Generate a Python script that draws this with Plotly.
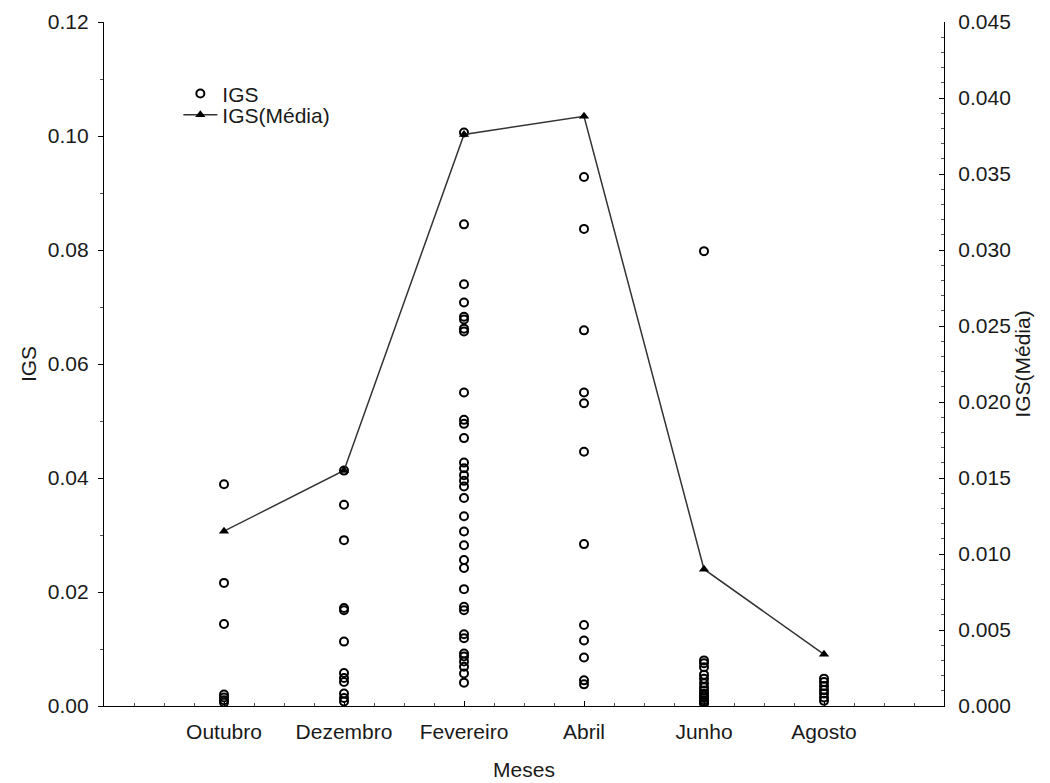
import plotly.graph_objects as go

meses = ["Outubro", "Dezembro", "Fevereiro", "Abril", "Junho", "Agosto"]

igs_outubro = [0.0389, 0.0216, 0.0144, 0.0020, 0.0015, 0.0010, 0.0006]
igs_dezembro = [0.0413, 0.0353, 0.0291, 0.0172, 0.0168, 0.0113, 0.0058, 0.0049,
                0.0042, 0.0022, 0.0014, 0.0008]
igs_fevereiro = [0.1006, 0.0845, 0.0740, 0.0708, 0.0683, 0.0678, 0.0662, 0.0657,
                 0.0550, 0.0502, 0.0495, 0.0470, 0.0427, 0.0417, 0.0405, 0.0395,
                 0.0385, 0.0365, 0.0333, 0.0306, 0.0282, 0.0256, 0.0242, 0.0205,
                 0.0174, 0.0168, 0.0126, 0.0119, 0.0092, 0.0087, 0.0078, 0.0069,
                 0.0057, 0.0041]
igs_abril = [0.0928, 0.0837, 0.0659, 0.0550, 0.0531, 0.0446, 0.0284, 0.0142,
             0.0115, 0.0085, 0.0045, 0.0038]
igs_junho = [0.0798, 0.0080, 0.0075, 0.0068, 0.0055, 0.0048, 0.0040, 0.0033,
             0.0027, 0.0022, 0.0018, 0.0014, 0.0010, 0.0007, 0.0004]
igs_agosto = [0.0048, 0.0042, 0.0035, 0.0028, 0.0022, 0.0015, 0.0009]

igs_media = [0.0115, 0.0155, 0.0376, 0.0388, 0.0090, 0.0034]

igs_por_mes = [igs_outubro, igs_dezembro, igs_fevereiro, igs_abril, igs_junho, igs_agosto]

xs, ys = [], []
for i, vals in enumerate(igs_por_mes):
    for v in vals:
        xs.append(i + 1)
        ys.append(v)

FONT = "Liberation Sans, Arial, sans-serif"
INK = "#1a1a1a"
FS = 21

fig = go.Figure()
fig.add_trace(go.Scatter(
    x=xs, y=ys, mode="markers", name="IGS", legend="legend",
    marker=dict(symbol="circle-open", size=8, color="black", line=dict(width=2, color="black")),
))
fig.add_trace(go.Scatter(
    x=list(range(1, len(meses) + 1)), y=igs_media, mode="lines+markers", name="IGS(Média)",
    yaxis="y2", legend="legend2",
    line=dict(color="#333333", width=1.5),
    marker=dict(symbol="triangle-up", size=9, color="black"),
))

legend_common = dict(xanchor="left", yanchor="top", bgcolor="rgba(0,0,0,0)",
                     font=dict(size=FS, color=INK), itemwidth=34)

fig.update_layout(
    width=1050, height=783,
    margin=dict(l=104, r=106, t=22, b=77, autoexpand=False),
    paper_bgcolor="white", plot_bgcolor="white",
    font=dict(family=FONT, size=FS, color=INK),
    showlegend=True,
    legend=dict(x=0.0885, y=0.925, **legend_common),
    legend2=dict(x=0.0885, y=0.894, **legend_common),
    xaxis=dict(
        range=[0, 7], tickvals=list(range(1, len(meses) + 1)), ticktext=meses,
        showgrid=False, zeroline=False, showline=True, linecolor="black", linewidth=1.2,
        ticks="inside", ticklen=5, tickcolor="black", ticklabelstandoff=7,
        minor=dict(dtick=0.25, tick0=0, ticks="inside", ticklen=3, tickcolor="#555"),
        title=dict(text="Meses", standoff=20, font=dict(size=FS)),
        tickfont=dict(size=FS), automargin=False,
    ),
    yaxis=dict(
        range=[0, 0.12], dtick=0.02, tickformat=".2f",
        showgrid=False, zeroline=False, showline=True, linecolor="black", linewidth=1.2,
        ticks="outside", ticklen=5, tickcolor="black", ticklabelstandoff=5,
        minor=dict(dtick=0.01, ticks="outside", ticklen=3, tickcolor="#555"),
        title=dict(text="IGS", standoff=5, font=dict(size=FS)),
        tickfont=dict(size=FS), automargin=False,
    ),
    yaxis2=dict(
        range=[0, 0.045], dtick=0.005, tickformat=".3f", overlaying="y", side="right",
        showgrid=False, zeroline=False, showline=True, linecolor="black", linewidth=1.2,
        ticks="inside", ticklen=5, tickcolor="black", ticklabelstandoff=9,
        minor=dict(dtick=0.001, ticks="inside", ticklen=3, tickcolor="#555"),
        title=dict(text="IGS(Média)", standoff=5, font=dict(size=FS)),
        tickfont=dict(size=FS), automargin=False,
    ),
)

fig.write_html("out.html")
